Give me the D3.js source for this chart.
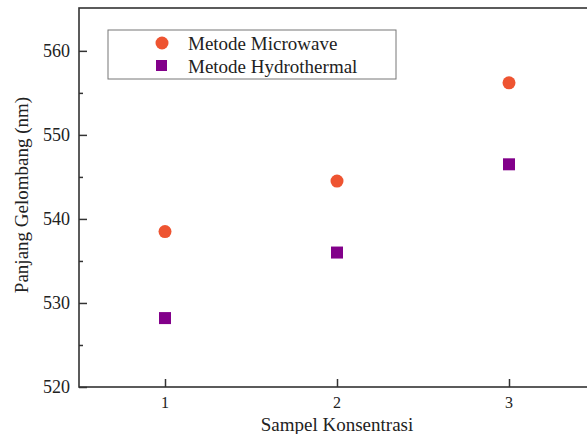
<!DOCTYPE html>
<html>
<head>
<meta charset="utf-8">
<script src="https://cdn.jsdelivr.net/npm/d3@7"></script>
<style>
  html, body { margin: 0; padding: 0; background: #fff; overflow: hidden; }
  svg { display: block; font-family: "Liberation Serif", "Times New Roman", serif; }
</style>
</head>
<body>
<svg id="chart" width="587" height="434"></svg>
<script>
// Sample concentrations and measured wavelengths (nm)
const samples = [1, 2, 3];
const microwave = [538.5, 544.5, 556.2];
const hydrothermal = [528.2, 536.0, 546.5];
const yTicks = [520, 530, 540, 550, 560];
const seriesNames = ["Metode Microwave", "Metode Hydrothermal"];
const seriesColors = ["#ee5431", "#82008a"];

const svg = d3.select("#chart");
const margin = { left: 79, top: 8, bottom: 47 };
const W = 587, H = 434;
const plotLeft = margin.left, plotTop = margin.top, plotBottom = H - margin.bottom;

const x = d3.scaleLinear().domain([0.5, 3.5]).range([plotLeft, 595]);
const y = d3.scaleLinear().domain([520, 565.1]).range([plotBottom, plotTop]);

const axisColor = "#333";
const textColor = "#222";

// Frame (right edge falls outside the visible area)
svg.append("rect")
  .attr("x", plotLeft).attr("y", plotTop)
  .attr("width", x(3.5) - plotLeft).attr("height", plotBottom - plotTop)
  .attr("fill", "none").attr("stroke", axisColor).attr("stroke-width", 1.6);

// Y axis: major ticks with labels, minor ticks in between, pointing inward
const yAxis = d3.axisRight(y).tickValues(yTicks).tickSize(8).tickFormat("");
svg.append("g").attr("transform", `translate(${plotLeft},0)`).call(yAxis)
  .call(g => g.select(".domain").remove())
  .call(g => g.selectAll("line").attr("stroke", axisColor).attr("stroke-width", 1.5));
const yMinor = d3.axisRight(y).tickValues([525, 535, 545, 555]).tickSize(4).tickFormat("");
svg.append("g").attr("transform", `translate(${plotLeft},0)`).call(yMinor)
  .call(g => g.select(".domain").remove())
  .call(g => g.selectAll("line").attr("stroke", axisColor).attr("stroke-width", 1.5));
svg.append("g").selectAll("text").data(yTicks).join("text")
  .attr("x", plotLeft - 9).attr("y", d => y(d)).attr("dy", "0.35em")
  .attr("text-anchor", "end").attr("font-size", 18).attr("fill", textColor)
  .text(d => d);

// X axis ticks pointing inward
const xAxis = d3.axisTop(x).tickValues(samples).tickSize(8).tickFormat("");
svg.append("g").attr("transform", `translate(0,${plotBottom})`).call(xAxis)
  .call(g => g.select(".domain").remove())
  .call(g => g.selectAll("line").attr("stroke", axisColor).attr("stroke-width", 1.5));
svg.append("g").selectAll("text").data(samples).join("text")
  .attr("x", d => x(d)).attr("y", plotBottom + 21)
  .attr("text-anchor", "middle").attr("font-size", 16).attr("fill", textColor)
  .text(d => d);

// Axis titles
svg.append("text")
  .attr("x", x(2)).attr("y", 431)
  .attr("text-anchor", "middle").attr("font-size", 19).attr("fill", textColor)
  .text("Sampel Konsentrasi");
svg.append("text")
  .attr("transform", `translate(28,195) rotate(-90)`)
  .attr("text-anchor", "middle").attr("font-size", 19).attr("fill", textColor)
  .text("Panjang Gelombang (nm)");

// Data points
svg.append("g").selectAll("circle").data(samples).join("circle")
  .attr("cx", d => x(d)).attr("cy", (d, i) => y(microwave[i]))
  .attr("r", 6.5).attr("fill", seriesColors[0]);
const sq = 12;
svg.append("g").selectAll("rect").data(samples).join("rect")
  .attr("x", d => x(d) - sq / 2).attr("y", (d, i) => y(hydrothermal[i]) - sq / 2)
  .attr("width", sq).attr("height", sq).attr("fill", seriesColors[1]);

// Legend
const lg = svg.append("g");
lg.append("rect").attr("x", 108).attr("y", 30).attr("width", 288).attr("height", 49)
  .attr("fill", "#fff").attr("stroke", "#777").attr("stroke-width", 1);
lg.append("circle").attr("cx", 162).attr("cy", 43).attr("r", 6.5).attr("fill", seriesColors[0]);
lg.append("rect").attr("x", 156).attr("y", 60).attr("width", 11).attr("height", 11).attr("fill", seriesColors[1]);
lg.selectAll("text.leg").data(seriesNames).join("text").attr("class", "leg")
  .attr("x", 188).attr("y", (d, i) => 43 + i * 23).attr("dy", "0.35em")
  .attr("font-size", 19).attr("fill", textColor)
  .text(d => d);
</script>
</body>
</html>
